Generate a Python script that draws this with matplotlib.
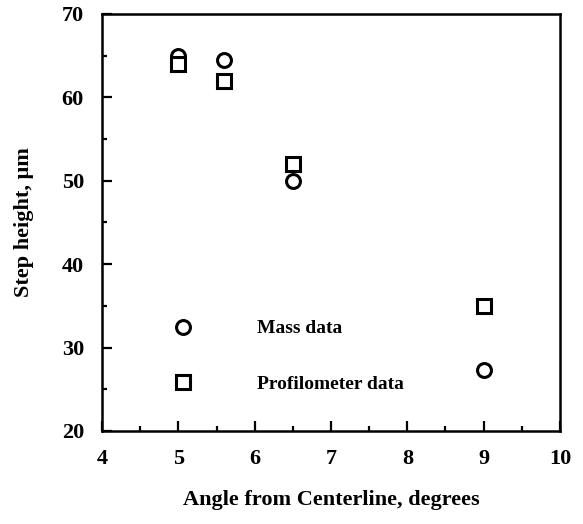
import matplotlib
matplotlib.use("Agg")
import matplotlib.pyplot as plt
from matplotlib.ticker import MultipleLocator

# data
mass_angle = [5.0, 5.6, 6.5, 9.0]
mass_height = [65.0, 64.5, 50.0, 27.3]
prof_angle = [5.0, 5.6, 6.5, 9.0]
prof_height = [64.0, 62.0, 52.0, 35.0]

plt.rcParams['font.family'] = ['Liberation Serif', 'DejaVu Serif']

fig = plt.figure(figsize=(5.83, 5.24), dpi=100)
ax = fig.add_axes([0.175, 0.1775, 0.7855, 0.7958])

ax.plot(mass_angle, mass_height, 'o', ls='none', ms=10, mfc='white',
        mec='black', mew=2.2, label='Mass data')
ax.plot(prof_angle, prof_height, 's', ls='none', ms=10, mfc='white',
        mec='black', mew=2.2, label='Profilometer data')

ax.set_xlim(4, 10)
ax.set_ylim(20, 70)
ax.xaxis.set_major_locator(MultipleLocator(1))
ax.xaxis.set_minor_locator(MultipleLocator(0.5))
ax.yaxis.set_major_locator(MultipleLocator(10))
ax.yaxis.set_minor_locator(MultipleLocator(5))
ax.tick_params(which='both', direction='in', top=False, right=False,
               width=1.6, labelsize=16)
ax.tick_params(which='major', length=7, pad=13)
ax.tick_params(which='minor', length=3.5)
for lab in ax.get_xticklabels() + ax.get_yticklabels():
    lab.set_fontweight('bold')
for sp in ax.spines.values():
    sp.set_linewidth(1.8)

ax.set_xlabel('Angle from Centerline, degrees', fontsize=16,
              fontweight='bold', labelpad=15)
ax.set_ylabel('Step height, \u03bcm', fontsize=16, fontweight='bold',
              labelpad=20)

leg = ax.legend(loc='upper left', bbox_to_anchor=(0.135, 0.29), frameon=False,
                fontsize=14, handletextpad=3.3, labelspacing=1.95,
                handlelength=1.0, borderpad=0)
for t in leg.get_texts():
    t.set_fontweight('bold')

fig.savefig('out.png', dpi=100)
